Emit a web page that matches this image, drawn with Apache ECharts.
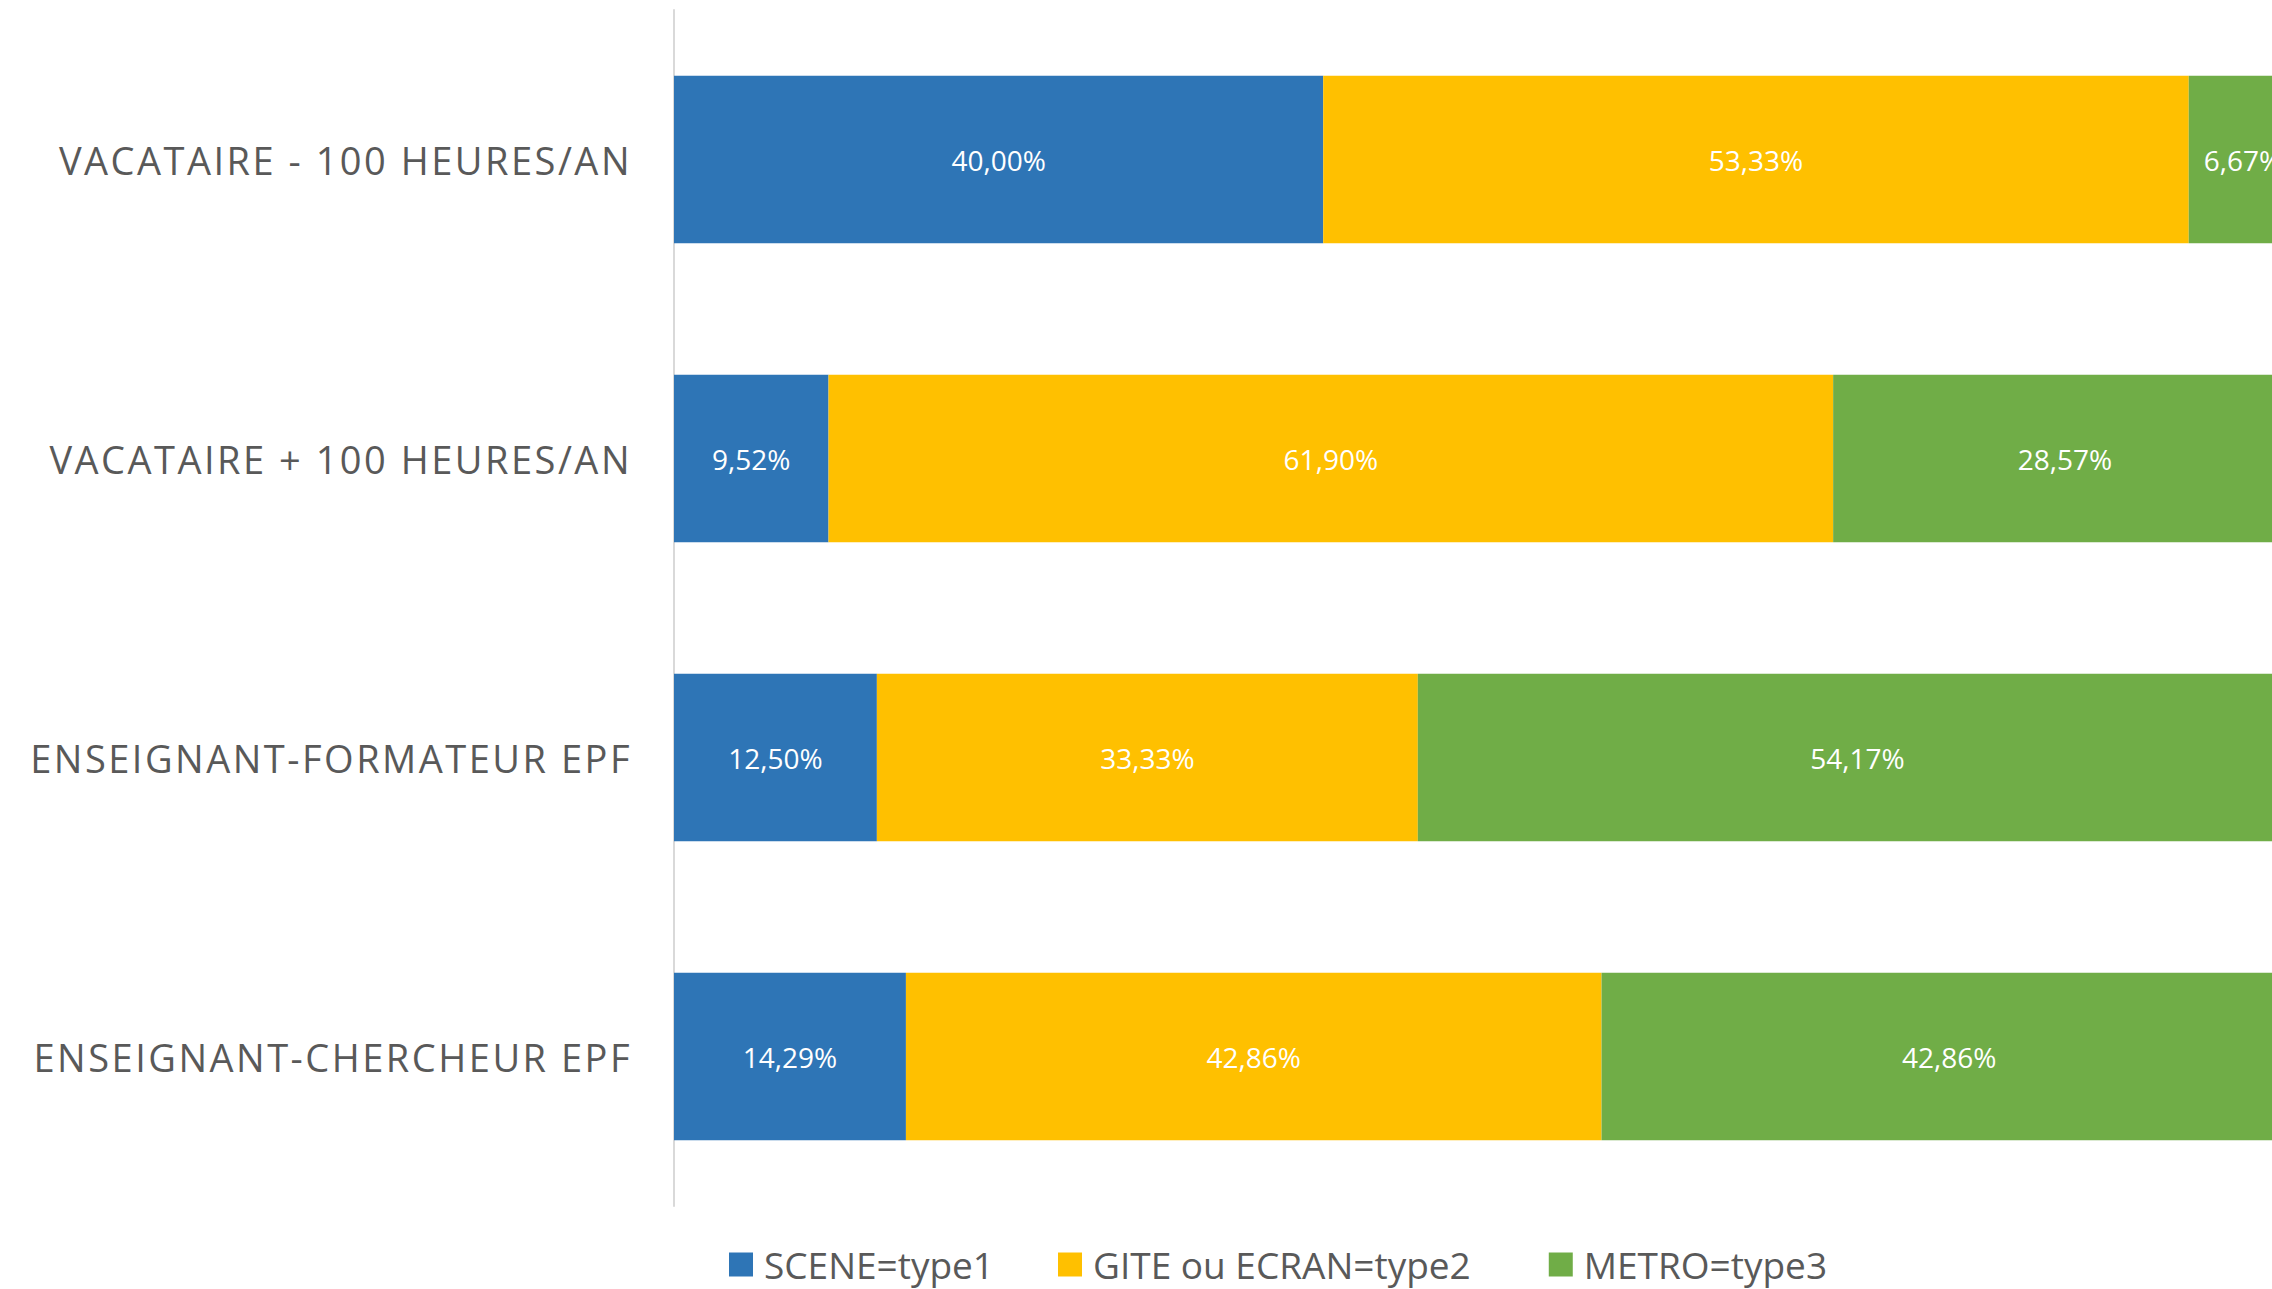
<!DOCTYPE html>
<html>
<head>
<meta charset="utf-8">
<script src="https://cdn.jsdelivr.net/npm/echarts@6/dist/echarts.min.js"></script>
<style>
  html, body { margin: 0; padding: 0; background: #fff; overflow: hidden; }
  /* chart is a bit wider than the window: the right end of the bars is cut off like in the original */
  #chart { width: 2297px; height: 1289px; }
  /* spaced-out category labels */
  #chart text[style*="38px"] { letter-spacing: 2.5px; }
</style>
</head>
<body>
<div id="chart"></div>
<script>
// categories top to bottom
const categories = [
  'VACATAIRE - 100 HEURES/AN',
  'VACATAIRE + 100 HEURES/AN',
  'ENSEIGNANT-FORMATEUR EPF',
  'ENSEIGNANT-CHERCHEUR EPF'
]
const scene = [40.00, 9.52, 12.50, 14.29]
const gite = [53.33, 61.90, 33.33, 42.86]
const metro = [6.67, 28.57, 54.17, 42.86]
const seriesNames = ['SCENE=type1', 'GITE ou ECRAN=type2', 'METRO=type3']
const colors = ['#2E75B6', '#FFC000', '#70AD47']

const font = '"Open Sans", "Liberation Sans", sans-serif'

function bar(name, data, color) {
  return {
    name: name,
    type: 'bar',
    stack: 'total',
    barCategoryGap: '44%',
    itemStyle: { color: color },
    label: {
      show: true,
      position: 'inside',
      color: '#fff',
      fontFamily: font,
      fontSize: 28,
      formatter: p => p.value.toFixed(2).replace('.', ',') + '%'
    },
    emphasis: { disabled: true },
    data: data
  }
}

const chart = echarts.init(document.getElementById('chart'), null, { renderer: 'svg' })
chart.setOption({
  animation: false,
  grid: {
    left: 674,
    top: 10,
    right: 0,
    height: 1196
  },
  legend: {
    data: [
      seriesNames[0],
      { name: seriesNames[1], textStyle: { padding: [0, 14, 0, 6] } },
      seriesNames[2]
    ],
    left: 729,
    top: 1246,
    padding: 0,
    itemWidth: 24,
    itemHeight: 24,
    itemGap: 64,
    icon: 'rect',
    textStyle: {
      color: '#595959',
      fontFamily: font,
      fontSize: 37,
      lineHeight: 26,
      padding: [0, 0, 0, 6]
    }
  },
  xAxis: {
    type: 'value',
    min: 0,
    max: 100,
    show: false
  },
  yAxis: {
    type: 'category',
    inverse: true,
    data: categories,
    axisTick: { show: false },
    axisLine: { lineStyle: { color: '#D9D9D9', width: 2 } },
    axisLabel: {
      color: '#595959',
      fontFamily: font,
      fontSize: 38,
      margin: 42
    }
  },
  series: [
    bar(seriesNames[0], scene, colors[0]),
    bar(seriesNames[1], gite, colors[1]),
    bar(seriesNames[2], metro, colors[2])
  ]
})
</script>
</body>
</html>
